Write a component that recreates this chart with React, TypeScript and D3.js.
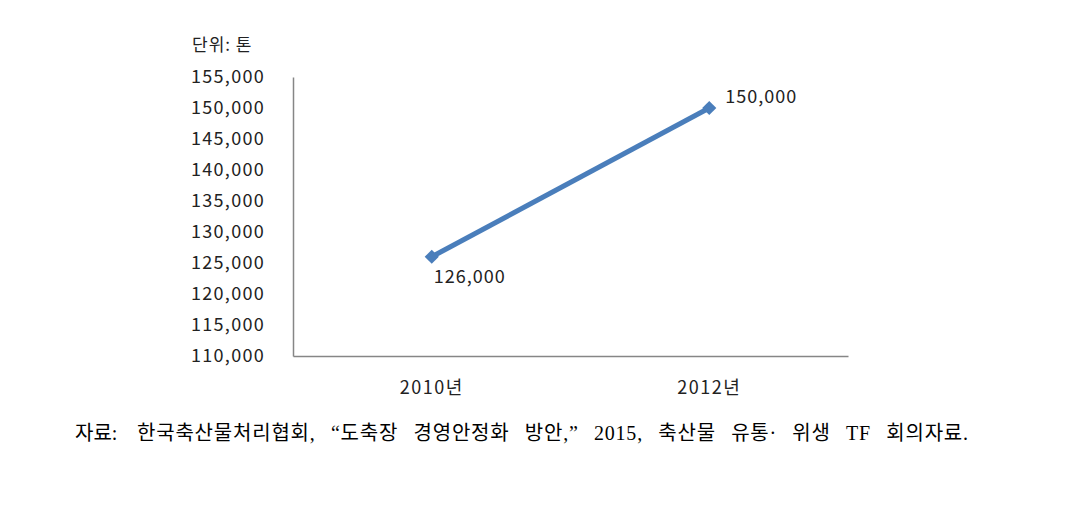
import * as d3 from 'd3';
import { useEffect, useRef } from 'react';

const years = ['2010년', '2012년'];
const values = [126000, 150000];
const valueLabels = ['126,000', '150,000'];
const yTicks = [110000, 115000, 120000, 125000, 130000, 135000, 140000, 145000, 150000, 155000];
const unitLabel = '단위: 톤';
const sourceLead = '자료:';
const sourceText = '한국축산물처리협회, “도축장 경영안정화 방안,” 2015, 축산물 유통· 위생 TF 회의자료.';

const WIDTH = 1076;
const HEIGHT = 505;
const MARGIN = { top: 77, right: 228, bottom: 149, left: 293 };
const SANS = '"Malgun Gothic", "Noto Sans CJK KR", "Noto Sans", sans-serif';
const SERIF = '"Liberation Serif", "Noto Sans CJK KR", serif';

export default function App() {
    const axesRef = useRef(null);
    const boundsWidth = WIDTH - MARGIN.left - MARGIN.right;
    const boundsHeight = HEIGHT - MARGIN.top - MARGIN.bottom;

    const xScale = d3.scaleBand().domain(years).range([0, boundsWidth]);
    const yScale = d3.scaleLinear().domain([110000, 155000]).range([boundsHeight, 0]);

    useEffect(() => {
        const g = d3.select(axesRef.current);
        g.selectAll('*').remove();

        const xAxis = g
            .append('g')
            .attr('transform', `translate(0,${boundsHeight})`)
            .call(d3.axisBottom(xScale).tickSize(0).tickPadding(25));
        xAxis.select('.domain').attr('stroke', '#868686').attr('stroke-width', 1.5);
        xAxis
            .selectAll('text')
            .attr('font-family', SANS)
            .attr('font-size', 18)
            .attr('letter-spacing', 1.5)
            .attr('fill', '#222');

        const yAxis = g
            .append('g')
            .call(
                d3
                    .axisLeft(yScale)
                    .tickValues(yTicks)
                    .tickSize(0)
                    .tickPadding(28)
                    .tickFormat((d) => d3.format(',')(d as number))
            );
        yAxis.select('.domain').attr('stroke', '#868686').attr('stroke-width', 1.5);
        yAxis
            .selectAll('text')
            .attr('font-family', SANS)
            .attr('font-size', 18)
            .attr('letter-spacing', 1.3)
            .attr('fill', '#222');
    }, [xScale, yScale, boundsHeight]);

    const cx = (i: number) => (xScale(years[i]) ?? 0) + xScale.bandwidth() / 2;
    const line = d3
        .line<number>()
        .x((_, i) => cx(i))
        .y((d) => yScale(d));
    const marker = d3.symbol(d3.symbolSquare, 100)();

    return (
        <svg
            width={WIDTH}
            height={HEIGHT}
            style={{ position: 'absolute', left: 0, top: 0, background: '#fff' }}
        >
            <text x={192} y={51} fontFamily={SANS} fontSize={17} letterSpacing={1} fill="#222">
                {unitLabel}
            </text>
            <g transform={`translate(${MARGIN.left},${MARGIN.top})`}>
                <path d={line(values) ?? ''} fill="none" stroke="#4a7ebb" strokeWidth={5} />
                {values.map((v, i) => (
                    <path
                        key={i}
                        d={marker ?? ''}
                        transform={`translate(${cx(i)},${yScale(v)}) rotate(45)`}
                        fill="#4a7ebb"
                    />
                ))}
                <text x={cx(0) + 2} y={yScale(values[0]) + 26} fontFamily={SANS} fontSize={18} letterSpacing={1} fill="#222">
                    {valueLabels[0]}
                </text>
                <text x={cx(1) + 16} y={yScale(values[1]) - 5} fontFamily={SANS} fontSize={18} letterSpacing={1} fill="#222">
                    {valueLabels[1]}
                </text>
            </g>
            <g ref={axesRef} transform={`translate(${MARGIN.left},${MARGIN.top})`} />
            <text y={440} fontFamily={SERIF} fontSize={20} fill="#000">
                <tspan x={75}>{sourceLead}</tspan>
                <tspan x={137} letterSpacing={0.8} wordSpacing={9.5}>{sourceText}</tspan>
            </text>
        </svg>
    );
}
